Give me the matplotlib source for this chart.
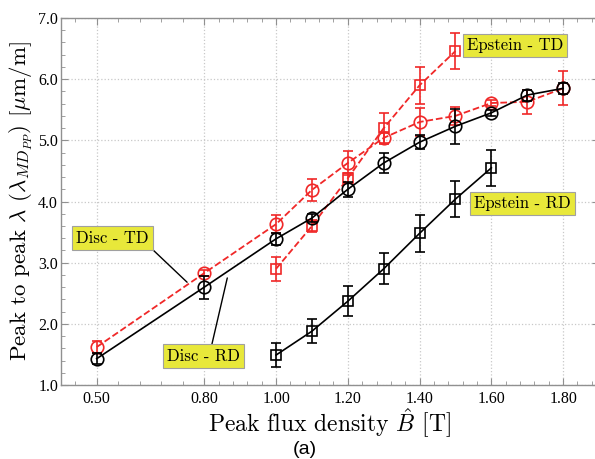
import matplotlib
matplotlib.use("Agg")
import matplotlib.pyplot as plt
from matplotlib.ticker import FixedLocator, FuncFormatter
import numpy as np

plt.rcParams['mathtext.fontset'] = 'cm'

# ---- data ----
B_disc = [0.5, 0.8, 1.0, 1.1, 1.2, 1.3, 1.4, 1.5, 1.6, 1.7, 1.8]
disc_rd = [1.43, 2.60, 3.39, 3.73, 4.20, 4.63, 4.97, 5.23, 5.45, 5.74, 5.85]
disc_rd_err = [0.09, 0.19, 0.10, 0.07, 0.12, 0.16, 0.11, 0.29, 0.05, 0.09, 0.09]
disc_td = [1.62, 2.83, 3.63, 4.19, 4.63, 5.04, 5.30, 5.40, 5.61, 5.63, 5.85]
disc_td_err = [0.10, 0.05, 0.15, 0.18, 0.20, 0.10, 0.23, 0.15, 0.05, 0.20, 0.28]

B_ep_td = [1.0, 1.1, 1.2, 1.3, 1.4, 1.5]
ep_td = [2.90, 3.60, 4.38, 5.20, 5.90, 6.46]
ep_td_err = [0.20, 0.10, 0.08, 0.25, 0.30, 0.30]

B_ep_rd = [1.0, 1.1, 1.2, 1.3, 1.4, 1.5, 1.6]
ep_rd = [1.49, 1.88, 2.37, 2.90, 3.48, 4.04, 4.55]
ep_rd_err = [0.20, 0.20, 0.25, 0.25, 0.30, 0.30, 0.30]

x_ticks = [0.5, 0.8, 1.0, 1.2, 1.4, 1.6, 1.8]
y_ticks = [1.0, 2.0, 3.0, 4.0, 5.0, 6.0, 7.0]

RED = '#f02828'
YELLOW = '#e8e83a'

fig = plt.figure(figsize=(5.95, 4.59), dpi=100)
ax = fig.add_axes([60.8/595, 1 - 385/459, (599 - 60.8)/595, (385 - 18)/459])

ax.errorbar(B_disc, disc_td, yerr=disc_td_err, color=RED, ls='--', lw=1.3,
            marker='o', ms=9, mfc='none', mec=RED, mew=1.2, capsize=3.5, elinewidth=1.2, capthick=1.2, zorder=3)
ax.errorbar(B_ep_td, ep_td, yerr=ep_td_err, color=RED, ls='--', lw=1.3,
            marker='s', ms=7.5, mfc='none', mec=RED, mew=1.2, capsize=3.5, elinewidth=1.2, capthick=1.2, zorder=3)
ax.errorbar(B_disc, disc_rd, yerr=disc_rd_err, color='black', ls='-', lw=1.2,
            marker='o', ms=9, mfc='none', mec='black', mew=1.2, capsize=3.5, elinewidth=1.2, capthick=1.2, zorder=4)
ax.errorbar(B_ep_rd, ep_rd, yerr=ep_rd_err, color='black', ls='-', lw=1.2,
            marker='s', ms=7.5, mfc='none', mec='black', mew=1.2, capsize=3.5, elinewidth=1.2, capthick=1.2, zorder=4)

ax.set_xlim(0.4, 1.9)
ax.set_ylim(1.0, 7.0)
ax.set_xticks(x_ticks)
ax.set_yticks(y_ticks)
# minor ticks: 4 per major interval
minors = []
for a, b in zip(x_ticks[:-1], x_ticks[1:]):
    minors += list(np.linspace(a, b, 6)[1:-1])
minors += [0.44, 1.84, 1.88]
ax.xaxis.set_minor_locator(FixedLocator(minors))
ax.yaxis.set_minor_locator(FixedLocator(np.arange(1.0, 7.01, 0.2)))
ax.xaxis.set_major_formatter(FuncFormatter(lambda v, p: f"{v:.2f}"))
ax.yaxis.set_major_formatter(FuncFormatter(lambda v, p: f"{v:.1f}"))

for lab in ax.get_xticklabels() + ax.get_yticklabels():
    lab.set_fontfamily('Liberation Serif')
    lab.set_fontsize(11.5)

ax.tick_params(which='both', direction='in', top=True, right=True, color='#909090')
ax.tick_params(which='major', length=5)
ax.tick_params(which='minor', length=3)
ax.tick_params(axis='x', which='major', pad=4)
ax.tick_params(axis='y', which='major', pad=2)
for s in ax.spines.values():
    s.set_color('#909090')
    s.set_linewidth(1.0)

ax.grid(True, which='major', ls=':', color='#c8c8c8', lw=0.9)

ax.set_xlabel(r'Peak flux density $\hat{B}$ [T]', fontfamily='cmr10', fontsize=17, labelpad=0)
ax.set_ylabel(r'Peak to peak $\lambda$ ($\lambda_{MD_{PP}}$) [$\mu$m/m]', fontfamily='cmr10', fontsize=16.5, labelpad=2)

bbox = dict(boxstyle='square,pad=0.25', fc=YELLOW, ec='#a0a0a0', lw=0.8)
kw = dict(fontfamily='cmr10', fontsize=12, ha='center', va='center', bbox=bbox, zorder=6)
ax.annotate('Disc - TD', xy=(0.752, 2.68), xytext=(0.544, 3.40),
            arrowprops=dict(arrowstyle='-', color='black', lw=1.0, relpos=(1, 0), shrinkA=0, shrinkB=0), **kw)
ax.annotate('Disc - RD', xy=(0.864, 2.75), xytext=(0.798, 1.47),
            arrowprops=dict(arrowstyle='-', color='black', lw=1.0, relpos=(0.6, 1), shrinkA=0, shrinkB=0), **kw)
ax.text(1.666, 6.55, 'Epstein - TD', **kw)
ax.text(1.687, 3.97, 'Epstein - RD', **kw)

fig.text(305/595, 1 - 449/459, '(a)', fontfamily='Liberation Sans', fontsize=14, ha='center', va='center')

fig.savefig('out.png', dpi=100)
